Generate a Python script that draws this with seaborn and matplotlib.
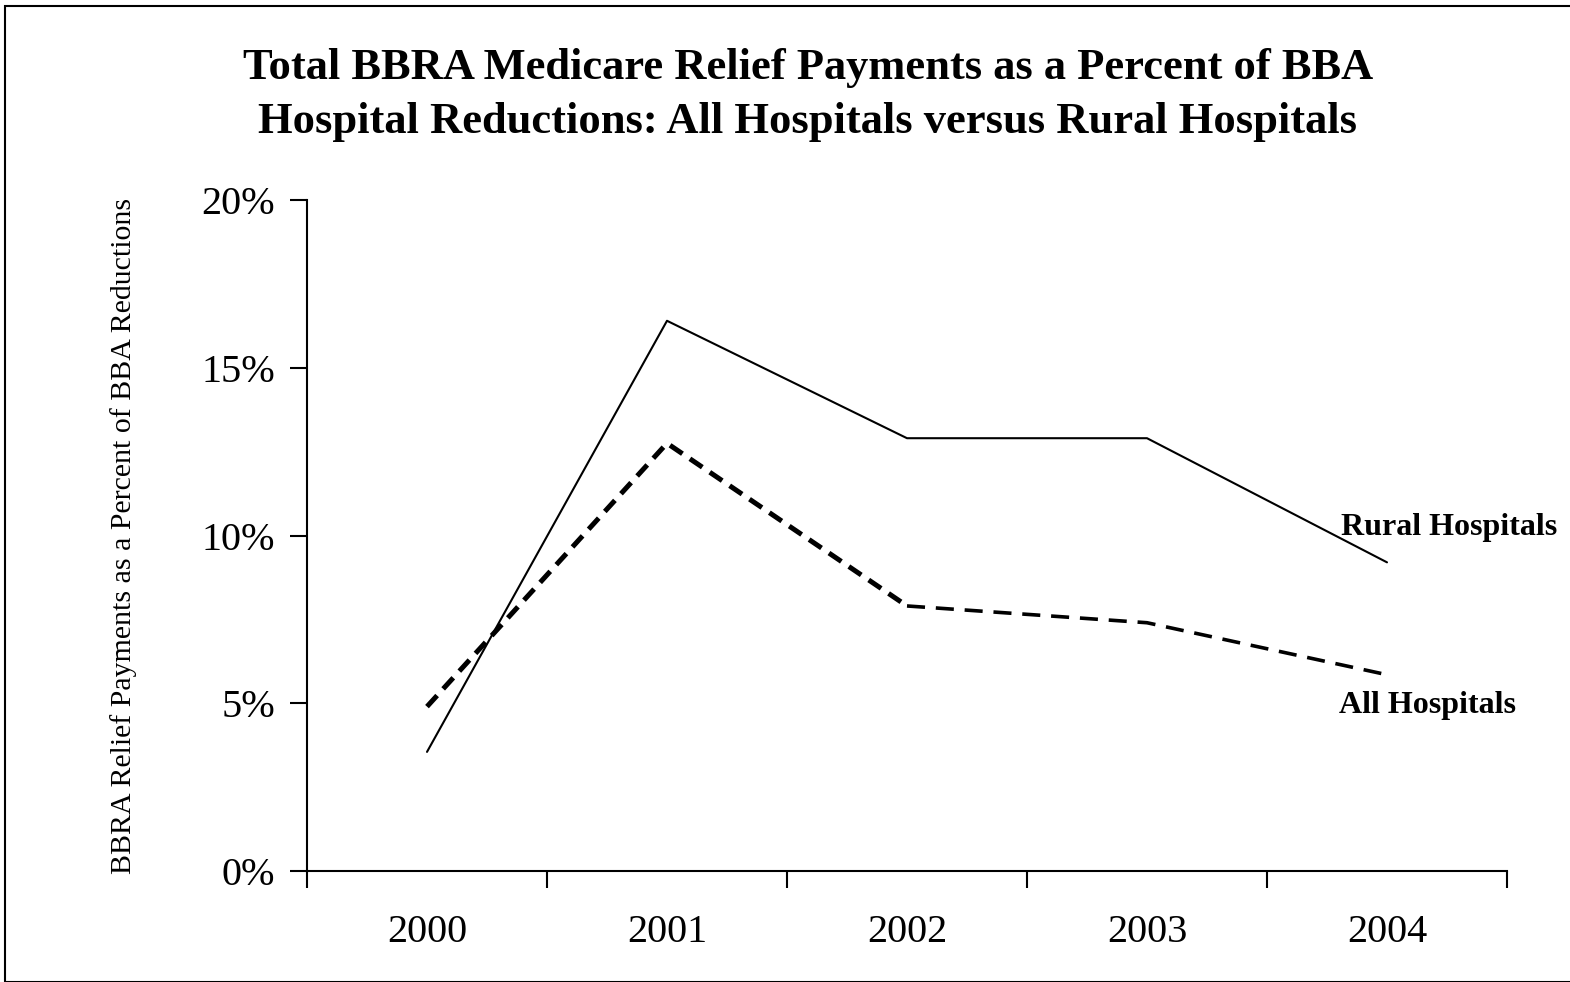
import matplotlib
matplotlib.use("Agg")
import matplotlib.pyplot as plt
import seaborn as sns
import pandas as pd
from matplotlib.patches import Rectangle
from matplotlib.ticker import FuncFormatter

years = ["2000", "2001", "2002", "2003", "2004"]
rural = [3.55, 16.4, 12.9, 12.9, 9.2]
all_hosp = [4.9, 12.75, 7.9, 7.4, 5.85]
yticks = [0, 5, 10, 15, 20]

sns.set_theme(style="white")
plt.rcParams['font.family'] = ['Liberation Serif', 'DejaVu Serif']
plt.rcParams['text.color'] = 'black'
plt.rcParams['axes.labelcolor'] = 'black'
plt.rcParams['xtick.color'] = 'black'
plt.rcParams['ytick.color'] = 'black'

fig = plt.figure(figsize=(15.7, 9.82), dpi=100)
ax = fig.add_axes([307/1570, 1-871/982, 1200/1570, 671/982])

xpos = list(range(len(years)))
df_r = pd.DataFrame({"x": xpos, "y": rural})
df_a1 = pd.DataFrame({"x": xpos[:3], "y": all_hosp[:3]})
df_a2 = pd.DataFrame({"x": xpos[2:], "y": all_hosp[2:]})

sns.lineplot(data=df_r, x="x", y="y", ax=ax, color="black", linewidth=1.5)
sns.lineplot(data=df_a1, x="x", y="y", ax=ax, color="black", linewidth=3.6)
ax.lines[-1].set_dashes([3, 1.8])
sns.lineplot(data=df_a2, x="x", y="y", ax=ax, color="black", linewidth=2.6)
ax.lines[-1].set_dashes([5, 3])

ax.set_xlim(-0.5, len(years) - 0.5)
ax.set_ylim(0, 20)
ax.set_xticks(xpos)
ax.set_xticklabels(years)
ax.set_xticks([i - 0.5 for i in range(len(years) + 1)], minor=True)
ax.set_yticks(yticks)
ax.yaxis.set_major_formatter(FuncFormatter(lambda v, p: f"{v:.0f}%"))
ax.tick_params(axis="x", which="major", length=0, pad=31, labelsize=29)
ax.tick_params(axis="x", which="minor", length=12, width=1.5, direction="out", color="black", bottom=True)
ax.tick_params(axis="y", which="major", length=12, width=1.5, direction="out", color="black", left=True, labelsize=29, pad=11)
for s in ["top", "right"]:
    ax.spines[s].set_visible(False)
for s in ["left", "bottom"]:
    ax.spines[s].set_color("black")
    ax.spines[s].set_linewidth(1.5)
ax.set_xlabel("")
ax.set_ylabel("BBRA Relief Payments as a Percent of BBA Reductions", fontsize=21.5)
ax.yaxis.set_label_coords(-0.142, 0.5)

ax.text(4.26, 10.25, "Rural Hospitals", fontsize=23, fontweight="bold", ha="center", va="center")
ax.text(4.167, 4.92, "All Hospitals", fontsize=23, fontweight="bold", ha="center", va="center")

fig.text(808/1570, 1 - 95/982, "Total BBRA Medicare Relief Payments as a Percent of BBA\nHospital Reductions: All Hospitals versus Rural Hospitals",
         ha="center", va="center", fontsize=32, fontweight="bold", linespacing=1.45)

fig.patches.append(Rectangle((5/1570, 0), 1, 1 - 6/982, transform=fig.transFigure,
                             fill=False, edgecolor="black", linewidth=1.5))

fig.savefig("out.png", dpi=100)
